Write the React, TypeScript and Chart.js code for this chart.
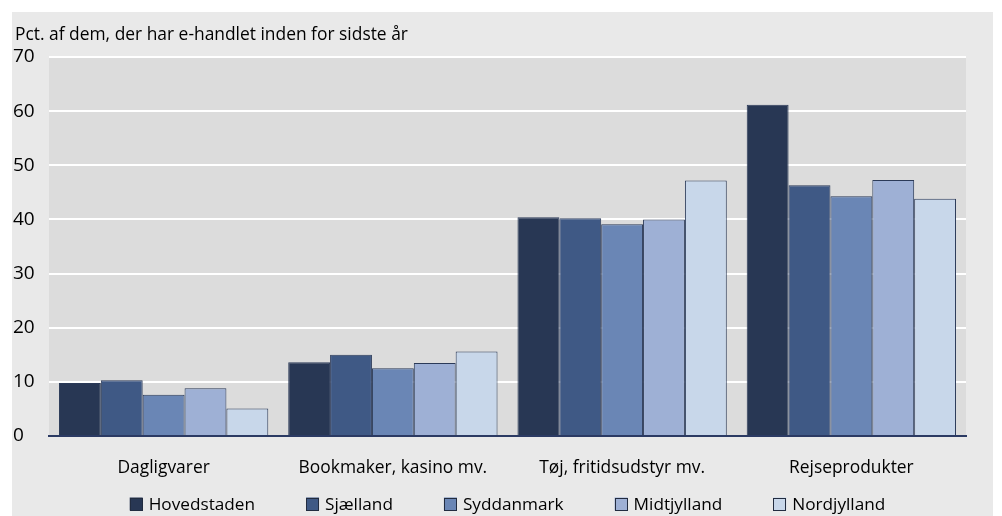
import React, { useEffect, useRef } from "react";
import { Chart, registerables } from "chart.js";

Chart.register(...registerables);

const categories = ["Dagligvarer", "Bookmaker, kasino mv.", "Tøj, fritidsudstyr mv.", "Rejseprodukter"];
const seriesNames = ["Hovedstaden", "Sjælland", "Syddanmark", "Midtjylland", "Nordjylland"];
const hovedstaden = [9.8, 13.6, 40.4, 61.2];
const sjaelland = [10.3, 15.0, 40.2, 46.3];
const syddanmark = [7.6, 12.5, 39.1, 44.3];
const midtjylland = [8.8, 13.5, 40.0, 47.3];
const nordjylland = [5.1, 15.6, 47.2, 43.8];
const seriesColors = ["#283754", "#3f5985", "#6a86b5", "#9eb0d5", "#c8d7ea"];
const yTicks = [0, 10, 20, 30, 40, 50, 60, 70];
const yTitle = "Pct. af dem, der har e-handlet inden for sidste år";

const FONT = '"Open Sans", sans-serif';

const decorPlugin = {
  id: "decor",
  beforeDraw(chart: any) {
    const { ctx, chartArea } = chart;
    ctx.save();
    ctx.fillStyle = "#ffffff";
    ctx.fillRect(0, 0, chart.width, chart.height);
    ctx.fillStyle = "#e9e9e9";
    ctx.fillRect(12, 12, 981, chart.height - 12);
    ctx.fillStyle = "#dcdcdc";
    ctx.fillRect(chartArea.left, chartArea.top, chartArea.right - chartArea.left, chartArea.bottom - chartArea.top);
    ctx.fillStyle = "#000000";
    ctx.font = `17.4px ${FONT}`;
    ctx.textAlign = "left";
    ctx.textBaseline = "alphabetic";
    ctx.fillText(yTitle, 15, 40);
    ctx.restore();
  },
  afterDraw(chart: any) {
    const { ctx, chartArea } = chart;
    ctx.save();
    ctx.font = `17.2px ${FONT}`;
    const box = 13;
    const gapText = 6;
    const gapItem = 51;
    const items = chart.data.datasets.map((ds: any) => ({
      label: ds.label as string,
      color: ds.backgroundColor as string,
      w: box + gapText + ctx.measureText(ds.label).width,
    }));
    const total = items.reduce((s: number, it: any) => s + it.w, 0) + gapItem * (items.length - 1);
    let x = (chartArea.left + chartArea.right) / 2 - total / 2;
    const yc = 504;
    for (const it of items) {
      ctx.fillStyle = it.color;
      ctx.fillRect(x, yc - box / 2, box, box);
      ctx.strokeStyle = "#222c40";
      ctx.lineWidth = 1;
      ctx.strokeRect(Math.round(x) + 0.5, Math.round(yc - box / 2) + 0.5, box - 1, box - 1);
      ctx.fillStyle = "#000000";
      ctx.textBaseline = "middle";
      ctx.textAlign = "left";
      ctx.fillText(it.label, x + box + gapText, yc + 1);
      x += it.w + gapItem;
    }
    ctx.restore();
  },
};

export default function App() {
  const ref = useRef<HTMLCanvasElement>(null);
  useEffect(() => {
    const data = [hovedstaden, sjaelland, syddanmark, midtjylland, nordjylland];
    const chart = new Chart(ref.current!, {
      type: "bar",
      data: {
        labels: categories,
        datasets: seriesNames.map((name, i) => ({
          label: name,
          data: data[i],
          backgroundColor: seriesColors[i],
          borderColor: "#2b3a58",
          borderWidth: 1,
          barPercentage: 1,
          categoryPercentage: 0.913,
        })),
      },
      options: {
        animation: false,
        responsive: false,
        maintainAspectRatio: false,
        layout: { padding: { left: 13, right: 36, top: 57, bottom: 0 } },
        plugins: {
          legend: { display: false },
          title: { display: false },
          tooltip: { enabled: false },
        },
        scales: {
          x: {
            grid: { display: false, drawTicks: false },
            border: { display: true, color: "#2b3a63", width: 2 },
            ticks: {
              color: "#000000",
              font: { family: FONT, size: 17.4 },
              padding: 22,
              maxRotation: 0,
              autoSkip: false,
            },
            afterFit(scale: any) {
              scale.height = 80;
            },
          },
          y: {
            min: 0,
            max: 70,
            afterBuildTicks(scale: any) {
              scale.ticks = yTicks.map((v) => ({ value: v }));
            },
            grid: {
              color: (c: any) => (c.tick && c.tick.value === 0 ? "rgba(0,0,0,0)" : "#ffffff"),
              lineWidth: 2,
              drawTicks: false,
            },
            border: { display: false },
            ticks: {
              color: "#000000",
              font: { family: FONT, size: 19 },
              crossAlign: "far",
              padding: 8,
            },
            afterFit(scale: any) {
              scale.width = 36;
            },
          },
        },
      },
      plugins: [decorPlugin],
    });
    return () => chart.destroy();
  }, []);
  return (
    <div style={{ position: "absolute", left: 0, top: 0, width: 1002, height: 516 }}>
      <canvas ref={ref} width={1002} height={516} style={{ display: "block" }} />
    </div>
  );
}
